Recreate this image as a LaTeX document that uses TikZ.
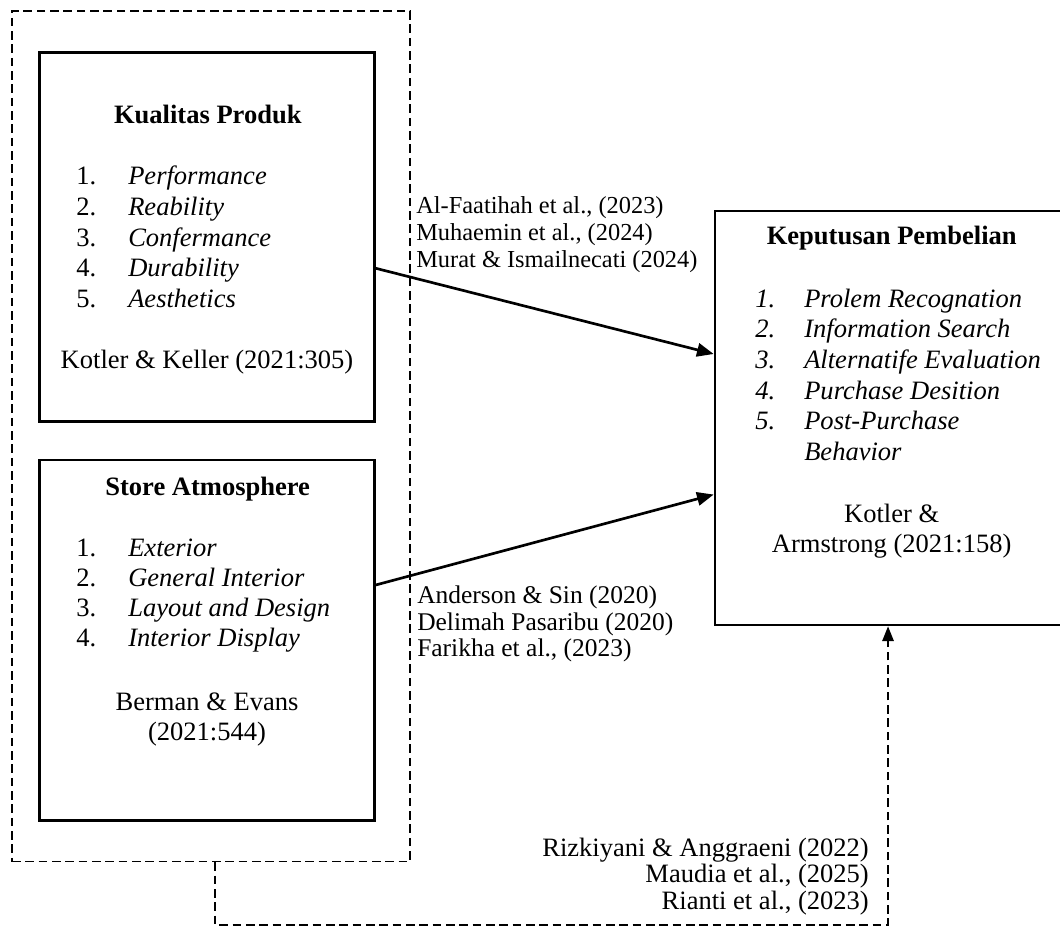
\documentclass[tikz,border=0pt]{standalone}
\usepackage{fontspec}
\setmainfont{Liberation Serif}
\usetikzlibrary{arrows.meta}
\newcommand\fsz{\fontsize{19.9}{23}\selectfont}
\newcommand\fsl{\fontsize{18.3}{20}\selectfont}
\newcommand\fsm{\fontsize{19.1}{21}\selectfont}
\tikzset{
  box/.style={draw, line width=2pt, rectangle, inner sep=0pt},
  outerbox/.style={draw, line width=1.3pt, dash pattern=on 6.5pt off 3.5pt, rectangle, inner sep=0pt},
  txt/.style={inner sep=0pt, font=\fsz},
  lbl/.style={inner sep=0pt, font=\fsl},
  lblm/.style={inner sep=0pt, font=\fsm},
  ttl/.style={inner sep=0pt, font=\fsz\bfseries, anchor=base},
  conn/.style={line width=2pt, -{Triangle[length=12.5pt,width=10pt]}},
  dconn/.style={line width=1.3pt, dash pattern=on 6.5pt off 3.5pt, -{Triangle[length=11pt,width=8.5pt]}}
}
\begin{document}
\begin{tikzpicture}[x=0.75pt, y=-0.75pt]
\useasboundingbox (0,0) rectangle (1060,927);

% boxes
\node[outerbox, minimum width=298.5pt, minimum height=637.9pt] (outer) at (211,436.25) {};
\node[box, minimum width=251.25pt, minimum height=276.75pt] (box1) at (206.8,237.2) {};
\node[box, minimum width=251.25pt, minimum height=270.5pt] (box2) at (206.8,640.35) {};
\node[box, minimum width=264.75pt, minimum height=310.5pt] (box3) at (891.5,418) {};

% box 1 text
\node[ttl] (t1) at (207.8,123.3) {Kualitas Produk};
\foreach \t [count=\i from 0] in {Performance, Reability, Confermance, Durability, Aesthetics} {
  \pgfmathtruncatemacro{\n}{\i+1}
  \node[txt, anchor=base west] (k\n n) at (76,{185+30.6*\i}) {\n.};
  \node[txt, anchor=base west] (k\n) at (128,{185+30.6*\i}) {\textit{\t}};
}
\node[txt, anchor=base] (s1) at (207,368.3) {Kotler \& Keller (2021:305)};

% box 2 text
\node[ttl] (t2) at (207.7,495) {Store Atmosphere};
\foreach \t [count=\i from 0] in {Exterior, General Interior, Layout and Design, Interior Display} {
  \pgfmathtruncatemacro{\n}{\i+1}
  \node[txt, anchor=base west] (a\n n) at (76,{556.7+30*\i}) {\n.};
  \node[txt, anchor=base west] (a\n) at (128,{556.7+30*\i}) {\textit{\t}};
}
\node[txt, anchor=base] (s2a) at (207,710) {Berman \& Evans};
\node[txt, anchor=base] (s2b) at (207,740) {(2021:544)};

% box 3 text
\node[ttl] (t3) at (891.7,245) {Keputusan Pembelian};
\foreach \t [count=\i from 0] in {Prolem Recognation, Information Search, Alternatife Evaluation, Purchase Desition, Post-Purchase} {
  \pgfmathtruncatemacro{\n}{\i+1}
  \node[txt, anchor=base west] (p\n n) at (755,{307.3+30.6*\i}) {\textit{\n.}};
  \node[txt, anchor=base west] (p\n) at (804,{307.3+30.6*\i}) {\textit{\t}};
}
\node[txt, anchor=base west] (p6) at (804,460) {\textit{Behavior}};
\node[txt, anchor=base] (s3a) at (891.7,522.3) {Kotler \&};
\node[txt, anchor=base] (s3b) at (891.7,552.3) {Armstrong (2021:158)};

% connector labels
\node[lbl, anchor=base west] (l1a) at (416,213.8) {Al-Faatihah et al., (2023)};
\node[lbl, anchor=base west] (l1b) at (416,240.5) {Muhaemin et al., (2024)};
\node[lbl, anchor=base west] (l1c) at (416,267.2) {Murat \& Ismailnecati (2024)};
\node[lblm, anchor=base west] (l2a) at (417,603.3) {Anderson \& Sin (2020)};
\node[lblm, anchor=base west] (l2b) at (417,630) {Delimah Pasaribu (2020)};
\node[lblm, anchor=base west] (l2c) at (417,656.7) {Farikha et al., (2023)};
\node[txt, anchor=base east] (l3a) at (869,856) {Rizkiyani \& Anggraeni (2022)};
\node[txt, anchor=base east] (l3b) at (869,882.7) {Maudia et al., (2025)};
\node[txt, anchor=base east] (l3c) at (869,909.3) {Rianti et al., (2023)};

% connectors
\draw[conn] ([yshift=-23.3pt]box1.east) -- ([yshift=48pt]box3.west);
\draw[conn] ([yshift=41.5pt]box2.east) -- ([yshift=-57.4pt]box3.west);
\draw[dconn] ([xshift=3pt]outer.south) -- ++(0,62.5) -| ([xshift=-2.6pt]box3.south);
\end{tikzpicture}
\end{document}
